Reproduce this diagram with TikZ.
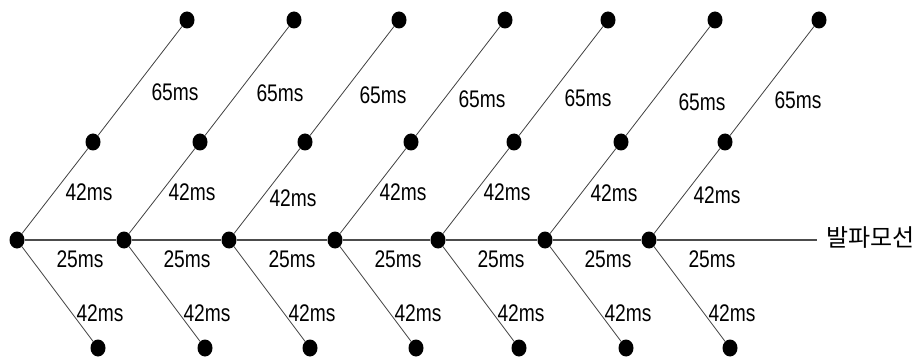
\documentclass[tikz,border=0pt]{standalone}
\usepackage{fontspec}
\setmainfont{Liberation Sans}[FakeStretch=0.8]
\newfontfamily\kofont{Noto Sans CJK KR}
\usetikzlibrary{shapes.geometric}
\tikzset{
  dot/.style={ellipse, fill=black, draw=none, inner sep=0pt, minimum width=15pt, minimum height=17pt},
  ln/.style={line width=0.8pt, draw=black!75},
  mainln/.style={line width=1.8pt, draw=black!70},
  lab/.style={inner sep=0pt, font=\fontsize{24}{24}\selectfont}
}
\begin{document}
\begin{tikzpicture}[x=1pt, y=-1pt]
\useasboundingbox (0,0) rectangle (917,363);
\foreach \i/\x/\ax/\ay/\bx/\by in {0/17/175/92/89/192, 1/124/280/93/192/192, 2/229/383/95/293/198, 3/335/482/99/403/192, 4/438/588/98/507/192, 5/545/702/102/614/193, 6/649/798/100/717/195} {
  \node[dot] (m\i) at (\x,240) {};
  \node[dot] (u\i) at (\x+76,142) {};
  \node[dot] (t\i) at (\x+170,20) {};
  \node[dot] (b\i) at (\x+81,348) {};
  \draw[ln] (m\i) -- (u\i);
  \draw[ln] (u\i) -- (t\i);
  \draw[ln] (m\i) -- (b\i);
  \node[lab] (l65\i) at (\ax,\ay) {65ms};
  \node[lab] (l42u\i) at (\bx,\by) {42ms};
  \node[lab] (l25\i) at (\x+63,259) {25ms};
  \node[lab] (l42d\i) at (\x+83,313) {42ms};
}
\coordinate (e) at (817,240);
\draw[mainln] (m0) -- (m1) -- (m2) -- (m3) -- (m4) -- (m5) -- (m6) -- (e);
\node[inner sep=0pt, anchor=west, font=\kofont\fontsize{24}{24}\selectfont] (bl) at (826,238) {발파모선};
\end{tikzpicture}
\end{document}
